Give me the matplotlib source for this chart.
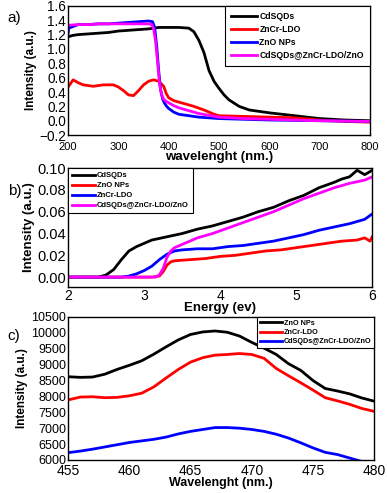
import matplotlib
matplotlib.use("Agg")
import matplotlib.pyplot as plt

plt.rcParams['font.family'] = ['Liberation Sans', 'DejaVu Sans']

# --- panel a: absorbance vs wavelength ---
a_cds_x = [200, 210, 220, 240, 260, 280, 300, 320, 340, 360, 380, 400, 420, 440, 450, 460, 470,
           480, 490, 500, 510, 520, 540, 560, 580, 600, 650, 700, 750, 800]
a_cds_y = [1.17, 1.19, 1.2, 1.21, 1.22, 1.23, 1.25, 1.26, 1.27, 1.28, 1.3, 1.3, 1.3, 1.29, 1.24, 1.12, 0.95,
           0.70, 0.55, 0.45, 0.36, 0.29, 0.20, 0.15, 0.13, 0.11, 0.07, 0.03, 0.01, 0.0]
a_zncr_x = [200, 205, 210, 220, 230, 250, 270, 290, 300, 310, 320, 330, 340, 350, 360, 370, 380, 390,
            395, 400, 410, 430, 450, 470, 490, 500, 550, 600, 650, 700, 750, 800]
a_zncr_y = [0.47, 0.52, 0.57, 0.53, 0.5, 0.48, 0.5, 0.5, 0.47, 0.42, 0.36, 0.35, 0.42, 0.5, 0.55, 0.57, 0.55, 0.48,
            0.38, 0.32, 0.28, 0.24, 0.2, 0.15, 0.09, 0.07, 0.06, 0.05, 0.04, 0.01, -0.01, -0.02]
a_zno_x = [200, 202, 205, 220, 240, 260, 280, 300, 320, 340, 360, 368, 372, 376, 380, 384, 388, 392,
           396, 400, 410, 420, 440, 460, 500, 550, 600, 700, 800]
a_zno_y = [1.22, 1.33, 1.3, 1.34, 1.34, 1.35, 1.35, 1.36, 1.37, 1.38, 1.39, 1.38, 1.3, 1.05, 0.7, 0.42, 0.3, 0.24,
           0.2, 0.17, 0.12, 0.09, 0.07, 0.05, 0.03, 0.02, 0.01, 0.0, -0.01]
a_comp_x = [200, 220, 240, 260, 280, 300, 320, 340, 360, 366, 370, 374, 378, 382, 386, 390, 395, 400,
            410, 420, 440, 460, 500, 550, 600, 700, 800]
a_comp_y = [1.33, 1.34, 1.34, 1.35, 1.35, 1.35, 1.35, 1.35, 1.35, 1.34, 1.28, 1.1, 0.8, 0.5, 0.36, 0.3, 0.27, 0.25,
            0.21, 0.18, 0.14, 0.1, 0.05, 0.03, 0.02, 0.0, -0.01]

# --- panel b: vs energy ---
b_cds_x = [2.0, 2.4, 2.5, 2.6, 2.7, 2.8, 2.9, 3.0, 3.1, 3.3, 3.5, 3.7, 3.9, 4.1, 4.3, 4.5, 4.7, 4.9,
           5.1, 5.3, 5.5, 5.6, 5.7, 5.8, 5.9, 6.0]
b_cds_y = [0, 0, 0.002, 0.007, 0.016, 0.024, 0.028, 0.031, 0.034, 0.037, 0.040, 0.044, 0.047, 0.051, 0.055,
           0.060, 0.064, 0.070, 0.075, 0.082, 0.087, 0.090, 0.092, 0.098, 0.094, 0.098]
b_zno_x = [2.0, 3.1, 3.2, 3.25, 3.3, 3.35, 3.4, 3.6, 3.8, 4.0, 4.2, 4.4, 4.6, 4.8, 5.0, 5.2, 5.4, 5.6,
           5.8, 5.9, 5.97, 6.0]
b_zno_y = [0, 0, 0.001, 0.005, 0.011, 0.014, 0.015, 0.016, 0.017, 0.019, 0.020, 0.022, 0.024, 0.025, 0.027,
           0.029, 0.031, 0.033, 0.034, 0.036, 0.033, 0.037]
b_zncr_x = [2.0, 2.7, 2.8, 2.9, 3.0, 3.1, 3.2, 3.3, 3.4, 3.5, 3.7, 3.9, 4.1, 4.3, 4.5, 4.7, 4.9, 5.1,
            5.3, 5.5, 5.7, 5.9, 6.0]
b_zncr_y = [0, 0, 0.001, 0.003, 0.006, 0.01, 0.016, 0.021, 0.024, 0.025, 0.026, 0.026, 0.028, 0.029, 0.031,
            0.033, 0.036, 0.039, 0.043, 0.046, 0.049, 0.053, 0.058]
b_comp_x = [2.0, 3.15, 3.2, 3.25, 3.3, 3.35, 3.4, 3.5, 3.7, 3.9, 4.1, 4.3, 4.5, 4.7, 4.9, 5.1, 5.3, 5.5,
            5.7, 5.9, 6.0]
b_comp_y = [0, 0, 0.002, 0.008, 0.018, 0.024, 0.027, 0.030, 0.036, 0.040, 0.045, 0.050, 0.055, 0.060, 0.066,
            0.072, 0.077, 0.082, 0.086, 0.089, 0.092]

# --- panel c: PL ---
c_x = [455, 456, 457, 458, 459, 460, 461, 462, 463, 464, 465, 466, 467, 468, 469, 470, 471, 472, 473,
       474, 475, 476, 477, 478, 479, 480]
c_zno = [8620, 8600, 8610, 8700, 8850, 8980, 9120, 9330, 9560, 9780, 9950, 10030, 10060, 10020, 9900, 9700,
         9520, 9320, 9030, 8820, 8500, 8250, 8170, 8080, 7950, 7850]
c_zncr = [7890, 7980, 7990, 7960, 7970, 8020, 8100, 8300, 8580, 8850, 9080, 9220, 9300, 9320, 9350, 9320,
          9200, 8880, 8650, 8430, 8200, 7960, 7860, 7750, 7620, 7530]
c_comp = [6230, 6280, 6340, 6410, 6480, 6550, 6600, 6650, 6720, 6820, 6900, 6960, 7020, 7020, 7000, 6960,
          6900, 6810, 6690, 6540, 6380, 6240, 6170, 6060, 5950, 5850]

fig = plt.figure(figsize=(3.87, 4.93), dpi=100)
lw = 2.0

def style(ax, ytick_fs, xtick_fs, xpad=1.5):
    ax.tick_params(axis='both', length=0)
    ax.tick_params(axis='y', labelsize=ytick_fs, pad=1.5)
    ax.tick_params(axis='x', labelsize=xtick_fs, pad=xpad)
    for s in ax.spines.values():
        s.set_linewidth(1.0)

def legend(ax, loc, size=5.5, spacing=0.35, pad=0.5):
    leg = ax.legend(loc=loc, prop={'weight': 'bold', 'size': size}, fancybox=False, frameon=True,
                    edgecolor='black', framealpha=1, borderpad=pad, labelspacing=spacing,
                    handlelength=3.0, handletextpad=0.3, borderaxespad=0.0)
    leg.get_frame().set_linewidth(0.8)

# a)
ax1 = fig.add_axes([0.176, 0.726, 0.780, 0.262])
ax1.plot(a_cds_x, a_cds_y, color='black', lw=lw, label='CdSQDs')
ax1.plot(a_zncr_x, a_zncr_y, color='red', lw=lw, label='ZnCr-LDO')
ax1.plot(a_zno_x, a_zno_y, color='blue', lw=lw, label='ZnO NPs')
ax1.plot(a_comp_x, a_comp_y, color='magenta', lw=lw, label='CdSQDs@ZnCr-LDO/ZnO')
ax1.set_xlim(200, 800)
ax1.set_ylim(-0.2, 1.6)
ax1.set_yticks([-0.2, 0.0, 0.2, 0.4, 0.6, 0.8, 1.0, 1.2, 1.4, 1.6])
ax1.set_xticks([200, 300, 400, 500, 600, 700, 800])
style(ax1, 9.8, 8, xpad=5)
ax1.set_xlabel('wavelenght (nm.)', fontsize=9.5, fontweight='bold', labelpad=-1)
ax1.set_ylabel('Intensity (a.u.)', fontsize=8.5, fontweight='bold', labelpad=2)
legend(ax1, 'upper right', size=6.2, spacing=0.45, pad=0.7)
fig.text(0.02, 0.955, 'a)', fontsize=11)

# b)
ax2 = fig.add_axes([0.176, 0.418, 0.786, 0.241])
ax2.plot(b_cds_x, b_cds_y, color='black', lw=lw, label='CdSQDs')
ax2.plot(b_zno_x, b_zno_y, color='red', lw=lw, label='ZnO NPs')
ax2.plot(b_zncr_x, b_zncr_y, color='blue', lw=lw, label='ZnCr-LDO')
ax2.plot(b_comp_x, b_comp_y, color='magenta', lw=lw, label='CdSQDs@ZnCr-LDO/ZnO')
ax2.set_xlim(2, 6)
ax2.set_ylim(-0.009, 0.1)
ax2.set_yticks([0.0, 0.02, 0.04, 0.06, 0.08, 0.10])
ax2.set_yticklabels(['0.00', '0.02', '0.04', '0.06', '0.08', '0.10'])
ax2.set_xticks([2, 3, 4, 5, 6])
style(ax2, 10.5, 10)
ax2.set_xlabel('Energy (ev)', fontsize=9.5, fontweight='bold', labelpad=-1)
ax2.set_ylabel('Intensity (a.u.)', fontsize=9.5, fontweight='bold', labelpad=2)
legend(ax2, 'upper left')
fig.text(0.02, 0.605, 'b)', fontsize=11)

# c)
ax3 = fig.add_axes([0.176, 0.067, 0.791, 0.290])
ax3.plot(c_x, c_zno, color='black', lw=lw, label='ZnO NPs')
ax3.plot(c_x, c_zncr, color='red', lw=lw, label='ZnCr-LDO')
ax3.plot(c_x, c_comp, color='blue', lw=lw, label='CdSQDs@ZnCr-LDO/ZnO')
ax3.set_xlim(455, 480)
ax3.set_ylim(6000, 10500)
ax3.set_yticks(range(6000, 10501, 500))
ax3.set_xticks([455, 460, 465, 470, 475, 480])
style(ax3, 9, 10, xpad=3)
ax3.set_xlabel('Wavelenght (nm.)', fontsize=9, fontweight='bold', labelpad=-1)
ax3.set_ylabel('Intensity (a.u.)', fontsize=8.5, fontweight='bold', labelpad=2)
legend(ax3, 'upper right', size=5.2, spacing=0.3, pad=0.4)
fig.text(0.02, 0.31, 'c)', fontsize=11)

fig.savefig('out.png', dpi=100)
